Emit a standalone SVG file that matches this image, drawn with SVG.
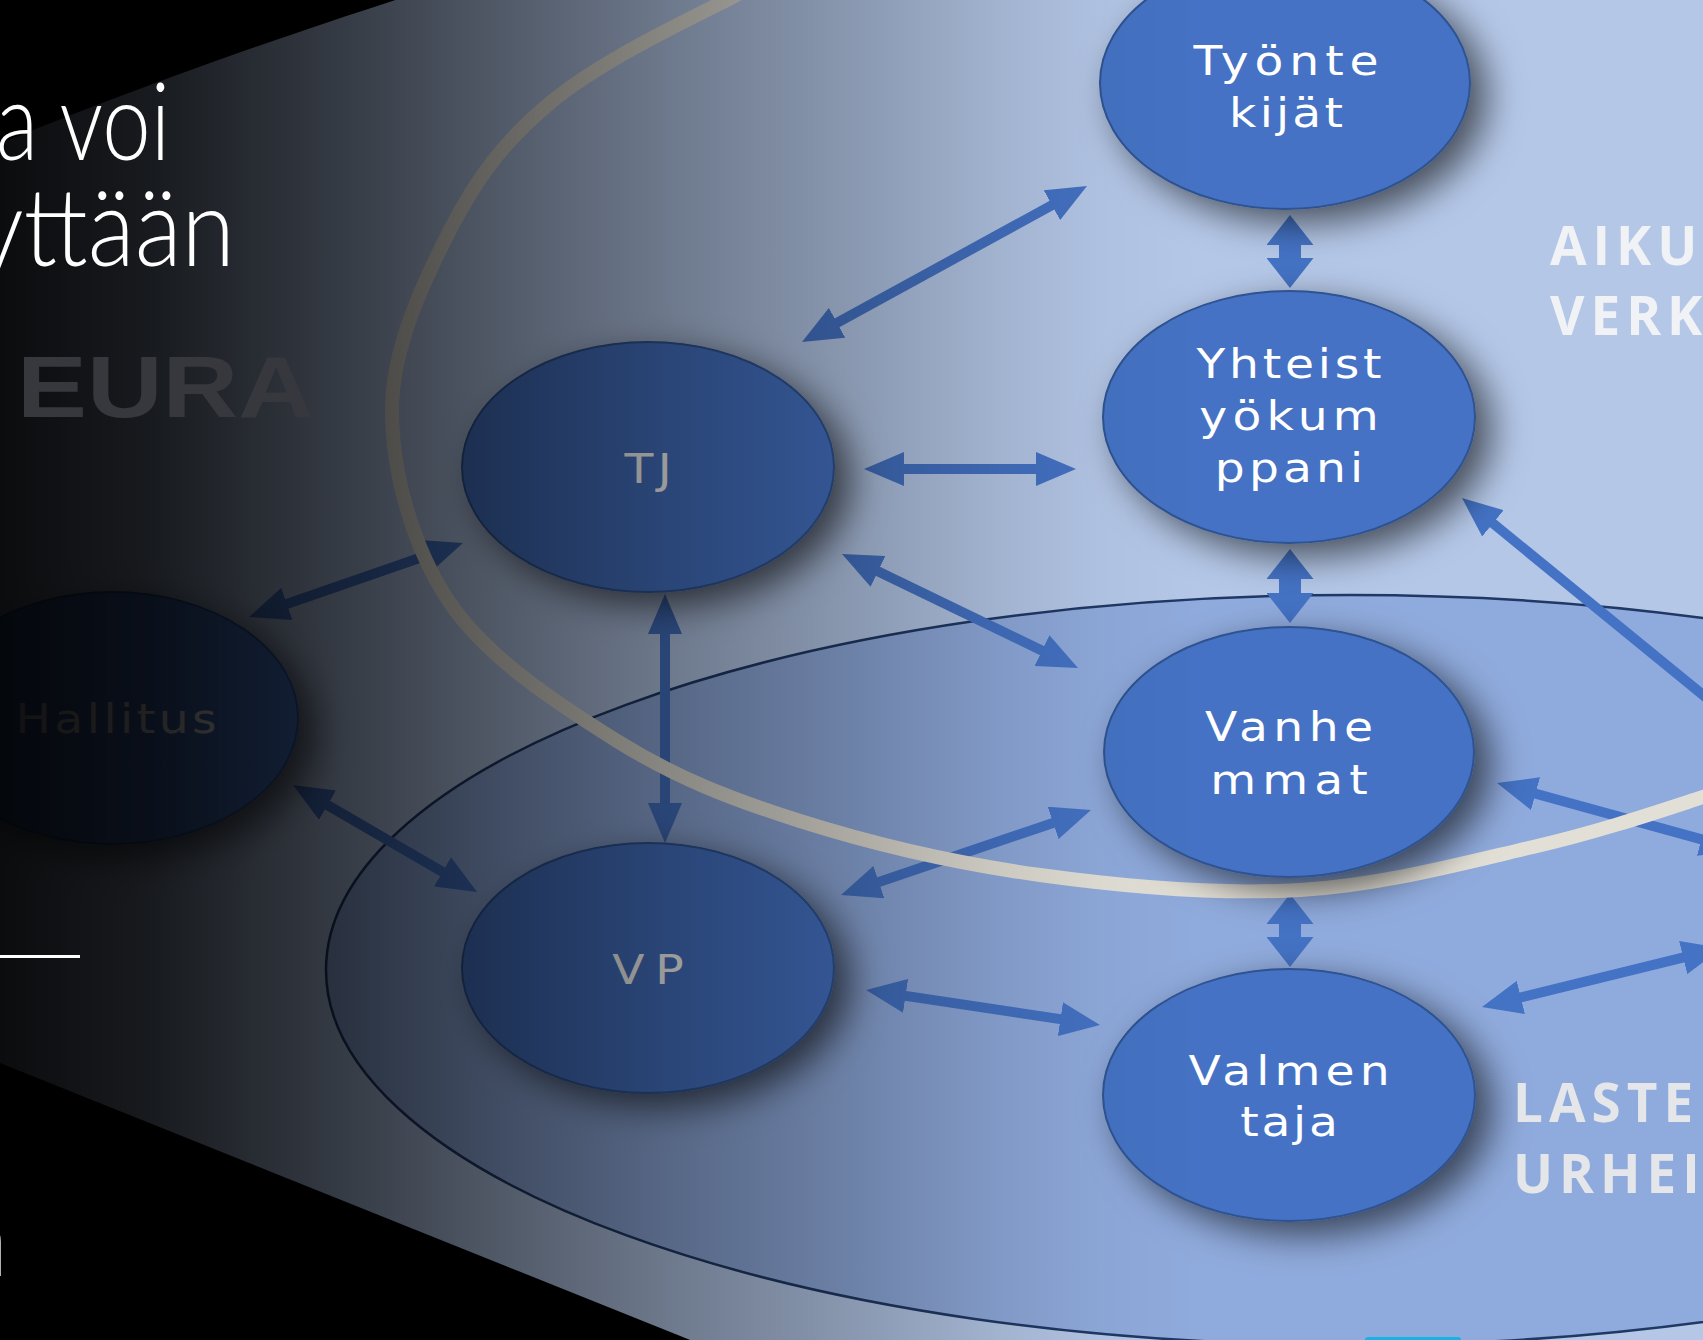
<svg xmlns="http://www.w3.org/2000/svg" width="1703" height="1340" viewBox="0 0 1703 1340">
<defs>
<style>
.nd{fill:#4472c4;stroke:#2f528f;stroke-width:2;filter:url(#sh)}
.lb{font-family:'DejaVu Sans',Verdana,sans-serif;font-size:41px;fill:#ffffff;text-anchor:middle}
.ar{stroke:#4472c4;stroke-width:10;fill:none;marker-start:url(#ah);marker-end:url(#ah)}
.as{stroke:#4472c4;stroke-width:22;fill:none;marker-start:url(#ah2);marker-end:url(#ah2)}
.ttl{font-family:Lato,'Open Sans',sans-serif;font-weight:300;font-size:108px;fill:#ffffff}
.zone{font-family:'Open Sans','Liberation Sans',sans-serif;font-weight:700;font-size:53px;letter-spacing:6px}
</style>
<filter id="sh" x="-30%" y="-30%" width="170%" height="170%">
<feGaussianBlur in="SourceAlpha" stdDeviation="18"/>
<feOffset dx="16" dy="13" result="b"/>
<feFlood flood-color="#000000" flood-opacity="0.6"/>
<feComposite in2="b" operator="in"/>
<feMerge><feMergeNode/><feMergeNode in="SourceGraphic"/></feMerge>
</filter>
<marker id="ah" markerUnits="userSpaceOnUse" markerWidth="40" markerHeight="34" refX="10" refY="17" orient="auto-start-reverse"><path d="M0,0 L40,17 L0,34 Z" fill="#4472c4"/></marker>
<marker id="ah2" markerUnits="userSpaceOnUse" markerWidth="30" markerHeight="47" refX="6" refY="23.5" orient="auto-start-reverse"><path d="M0,0 L30,23.5 L0,47 Z" fill="#4472c4"/></marker>
<linearGradient id="ov" gradientUnits="userSpaceOnUse" x1="0" y1="0" x2="1703" y2="0">
<stop offset="0" stop-color="#000" stop-opacity="0.94"/>
<stop offset="0.088" stop-color="#000" stop-opacity="0.87"/>
<stop offset="0.191" stop-color="#000" stop-opacity="0.72"/>
<stop offset="0.294" stop-color="#000" stop-opacity="0.55"/>
<stop offset="0.395" stop-color="#000" stop-opacity="0.39"/>
<stop offset="0.499" stop-color="#000" stop-opacity="0.24"/>
<stop offset="0.587" stop-color="#000" stop-opacity="0.1"/>
<stop offset="0.646" stop-color="#000" stop-opacity="0.03"/>
<stop offset="0.705" stop-color="#000" stop-opacity="0"/>
</linearGradient>
</defs>

<rect x="0" y="0" width="1703" height="1340" fill="#000000"/>
<g id="background">
<path d="M 520,-40 C 380,5 200,60 -40,160 L -40,1047 L 760,1368 L 1760,1390 L 1760,-40 Z" fill="#b4c7e7"/>
<ellipse cx="1350" cy="970" rx="1024" ry="375" fill="#8faadc" stroke="#1f3864" stroke-width="2.5"/>
</g>

<g id="connectors">
<line class="ar" x1="828.3" y1="327.6" x2="1060.7" y2="200.4"/>
<line class="ar" x1="894" y1="469" x2="1046" y2="469"/>
<line class="ar" x1="869" y1="567" x2="1051" y2="654.9"/>
<line class="ar" x1="665" y1="624" x2="665" y2="813"/>
<line class="ar" x1="277.4" y1="607.2" x2="434.6" y2="552.8"/>
<line class="ar" x1="318.9" y1="800.1" x2="451.1" y2="876.9"/>
<line class="ar" x1="869.4" y1="885.3" x2="1062.6" y2="819.7"/>
<line class="ar" x1="895.7" y1="994.4" x2="1070.3" y2="1020.6"/>
<line class="ar" x1="1485.2" y1="517" x2="1748.4" y2="732.2"/>
<line class="ar" x1="1525.9" y1="791" x2="1711.1" y2="842"/>
<line class="ar" x1="1511.1" y1="999.8" x2="1692.9" y2="955.2"/>
<line class="as" x1="1290" y1="239" x2="1290" y2="264"/>
<line class="as" x1="1290" y1="573" x2="1290" y2="599"/>
<line class="as" x1="1290" y1="918" x2="1290" y2="943"/>
</g>

<path id="ring" d="M 820,-50 C 780,-30 750,-12 727,0 C 668.7,28.8 596.2,64.7 550,103 C 503.8,141.3 476.3,178.8 450,230 C 423.7,281.2 392,347.8 392,410 C 392,472.2 412.5,547.8 450,603 C 487.5,658.2 558.7,704.7 617,741 C 675.3,777.3 729.5,798.7 800,821 C 870.5,843.3 956.7,863.5 1040,875 C 1123.3,886.5 1217.8,894.7 1300,890 C 1382.2,885.3 1465.8,862.5 1533,847 C 1600.2,831.5 1658.5,811.5 1703,797 C 1747.5,782.5 1767.2,773.7 1800,760" fill="none" stroke="#e2dfd6" stroke-width="14"/>

<g id="node-tyontekijat">
<ellipse class="nd" cx="1285" cy="83" rx="185" ry="126"/>
<text class="lb" transform="translate(1286 0) scale(1.15 1)" y="75" textLength="161">Työnte</text>
<text class="lb" transform="translate(1286 0) scale(1.15 1)" y="127" textLength="99">kijät</text>
</g>
<g id="node-yhteistyokumppani">
<ellipse class="nd" cx="1289" cy="417" rx="186" ry="126"/>
<text class="lb" transform="translate(1289 0) scale(1.15 1)" y="378" textLength="161">Yhteist</text>
<text class="lb" transform="translate(1289 0) scale(1.15 1)" y="430" textLength="156">yökum</text>
<text class="lb" transform="translate(1289 0) scale(1.15 1)" y="482" textLength="129">ppani</text>
</g>
<g id="node-vanhemmat">
<ellipse class="nd" cx="1289" cy="752" rx="185" ry="125"/>
<text class="lb" transform="translate(1289 0) scale(1.15 1)" y="741" textLength="146">Vanhe</text>
<text class="lb" transform="translate(1289 0) scale(1.15 1)" y="794" textLength="137">mmat</text>
</g>
<g id="node-valmentaja">
<ellipse class="nd" cx="1289" cy="1095" rx="186" ry="126"/>
<text class="lb" transform="translate(1289 0) scale(1.15 1)" y="1085" textLength="175">Valmen</text>
<text class="lb" transform="translate(1289 0) scale(1.15 1)" y="1136" textLength="85">taja</text>
</g>
<g id="node-tj">
<ellipse class="nd" cx="648" cy="467" rx="186" ry="125"/>
<text class="lb" transform="translate(648 0) scale(1.15 1)" y="483" textLength="41">TJ</text>
</g>
<g id="node-vp">
<ellipse class="nd" cx="648" cy="968" rx="186" ry="125"/>
<text class="lb" transform="translate(648 0) scale(1.15 1)" y="984" textLength="62">VP</text>
</g>
<g id="node-hallitus">
<ellipse class="nd" cx="112" cy="718" rx="186" ry="126"/>
<text class="lb" transform="translate(116 0) scale(1.15 1)" y="733" textLength="175">Hallitus</text>
</g>

<g id="zone-labels">
<text class="zone" x="1550" y="265" fill="#f0f2f6">AIKU</text>
<text class="zone" x="1550" y="335" fill="#f0f2f6">VERK</text>
<text class="zone" x="1513" y="1122" fill="#e4e6ea">LASTEN</text>
<text class="zone" x="1513" y="1193" fill="#e4e6ea">URHEI</text>
</g>

<rect id="shade" x="0" y="0" width="1703" height="1340" fill="url(#ov)"/>

<text x="17" y="417" font-family="'Liberation Sans',Arial,sans-serif" font-weight="700" font-size="87" fill="#36383e" textLength="297" lengthAdjust="spacingAndGlyphs">EURA</text>

<g id="title">
<text class="ttl" x="-4" y="160" textLength="174" lengthAdjust="spacingAndGlyphs">a voi</text>
<text class="ttl" x="-25" y="266" textLength="260" lengthAdjust="spacingAndGlyphs">yttään</text>
<rect x="0" y="955" width="80" height="3" fill="#ffffff"/>
<text class="ttl" x="9" y="1276" text-anchor="end">n</text>
</g>
<rect x="1365" y="1337" width="96" height="8" rx="3" fill="#1ab2e4"/>
</svg>
